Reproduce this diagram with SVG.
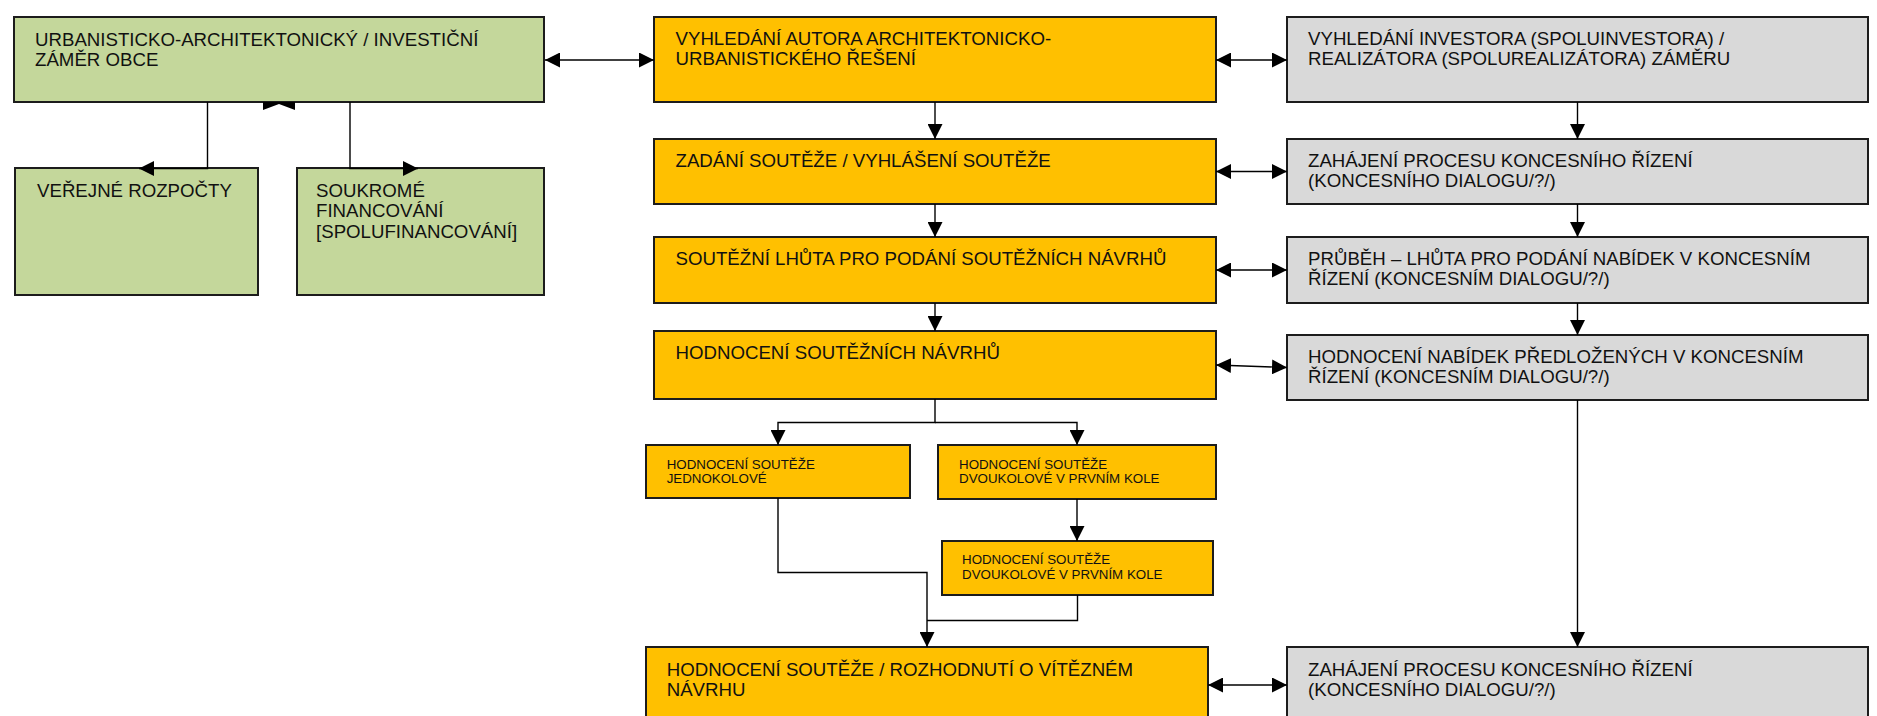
<svg xmlns="http://www.w3.org/2000/svg" width="1877" height="716" viewBox="0 0 1877 716">
<style>
  .box { stroke: #1c1c1c; stroke-width: 2; }
  .green { fill: #C4D79B; }
  .orange { fill: #FFC000; }
  .gray { fill: #D9D9D9; }
  .t { font-family: "Liberation Sans", Arial, sans-serif; font-size: 18.67px; fill: #111; }
  .ts { font-family: "Liberation Sans", Arial, sans-serif; font-size: 13.33px; fill: #111; }
  .c { fill: none; stroke: #000; stroke-width: 1.4; }
  .a { marker-end: url(#ah); }
  .aa { marker-start: url(#ah); marker-end: url(#ah); }
</style>
<defs>
  <marker id="ah" markerUnits="userSpaceOnUse" markerWidth="15" markerHeight="15" viewBox="0 0 15 15" refX="15" refY="7.5" orient="auto-start-reverse">
    <path d="M0,0 L15,7.5 L0,15 Z" fill="#000"/>
  </marker>
</defs>
<rect width="1877" height="716" fill="#fff"/>

<g id="zamer-obce">
  <rect class="box green" x="14" y="17" width="530" height="85"/>
  <text class="t" x="35" y="46">URBANISTICKO-ARCHITEKTONICKÝ / INVESTIČNÍ</text>
  <text class="t" x="35" y="66">ZÁMĚR OBCE</text>
</g>
<g id="verejne-rozpocty">
  <rect class="box green" x="15" y="168" width="243" height="127"/>
  <text class="t" x="37" y="197">VEŘEJNÉ ROZPOČTY</text>
</g>
<g id="soukrome-financovani">
  <rect class="box green" x="297" y="168" width="247" height="127"/>
  <text class="t" x="316" y="197">SOUKROMÉ</text>
  <text class="t" x="316" y="217">FINANCOVÁNÍ</text>
  <text class="t" x="316" y="237.5">[SPOLUFINANCOVÁNÍ]</text>
</g>

<g id="vyhledani-autora">
  <rect class="box orange" x="654" y="17" width="562" height="85"/>
  <text class="t" x="675.5" y="45">VYHLEDÁNÍ AUTORA ARCHITEKTONICKO-</text>
  <text class="t" x="675.5" y="65">URBANISTICKÉHO ŘEŠENÍ</text>
</g>
<g id="zadani-souteze">
  <rect class="box orange" x="654" y="139" width="562" height="65"/>
  <text class="t" x="675.5" y="167">ZADÁNÍ SOUTĚŽE / VYHLÁŠENÍ SOUTĚŽE</text>
</g>
<g id="soutezni-lhuta">
  <rect class="box orange" x="654" y="237" width="562" height="66"/>
  <text class="t" x="675.5" y="265">SOUTĚŽNÍ LHŮTA PRO PODÁNÍ SOUTĚŽNÍCH NÁVRHŮ</text>
</g>
<g id="hodnoceni-navrhu">
  <rect class="box orange" x="654" y="331" width="562" height="68"/>
  <text class="t" x="675.5" y="359">HODNOCENÍ SOUTĚŽNÍCH NÁVRHŮ</text>
</g>
<g id="jednokolove">
  <rect class="box orange" x="646" y="445" width="264" height="53"/>
  <text class="ts" x="666.7" y="468.5">HODNOCENÍ SOUTĚŽE</text>
  <text class="ts" x="666.7" y="482.5">JEDNOKOLOVÉ</text>
</g>
<g id="dvoukolove-1">
  <rect class="box orange" x="938" y="445" width="278" height="54"/>
  <text class="ts" x="959" y="468.5">HODNOCENÍ SOUTĚŽE</text>
  <text class="ts" x="959" y="482.5">DVOUKOLOVÉ V PRVNÍM KOLE</text>
</g>
<g id="dvoukolove-2">
  <rect class="box orange" x="942" y="541" width="271" height="54"/>
  <text class="ts" x="962" y="564">HODNOCENÍ SOUTĚŽE</text>
  <text class="ts" x="962" y="578.5">DVOUKOLOVÉ V PRVNÍM KOLE</text>
</g>
<g id="rozhodnuti">
  <rect class="box orange" x="646" y="647" width="562" height="80"/>
  <text class="t" x="666.7" y="676">HODNOCENÍ SOUTĚŽE / ROZHODNUTÍ O VÍTĚZNÉM</text>
  <text class="t" x="666.7" y="696">NÁVRHU</text>
</g>

<g id="vyhledani-investora">
  <rect class="box gray" x="1287" y="17" width="581" height="85"/>
  <text class="t" x="1308" y="45">VYHLEDÁNÍ INVESTORA (SPOLUINVESTORA) /</text>
  <text class="t" x="1308" y="65">REALIZÁTORA (SPOLUREALIZÁTORA) ZÁMĚRU</text>
</g>
<g id="zahajeni-1">
  <rect class="box gray" x="1287" y="139" width="581" height="65"/>
  <text class="t" x="1308" y="167">ZAHÁJENÍ PROCESU KONCESNÍHO ŘÍZENÍ</text>
  <text class="t" x="1308" y="187">(KONCESNÍHO DIALOGU/?/)</text>
</g>
<g id="prubeh">
  <rect class="box gray" x="1287" y="237" width="581" height="66"/>
  <text class="t" x="1308" y="265">PRŮBĚH – LHŮTA PRO PODÁNÍ NABÍDEK V KONCESNÍM</text>
  <text class="t" x="1308" y="285">ŘÍZENÍ (KONCESNÍM DIALOGU/?/)</text>
</g>
<g id="hodnoceni-nabidek">
  <rect class="box gray" x="1287" y="335" width="581" height="65"/>
  <text class="t" x="1308" y="363">HODNOCENÍ NABÍDEK PŘEDLOŽENÝCH V KONCESNÍM</text>
  <text class="t" x="1308" y="383">ŘÍZENÍ (KONCESNÍM DIALOGU/?/)</text>
</g>
<g id="zahajeni-2">
  <rect class="box gray" x="1287" y="647" width="581" height="80"/>
  <text class="t" x="1308" y="675.5">ZAHÁJENÍ PROCESU KONCESNÍHO ŘÍZENÍ</text>
  <text class="t" x="1308" y="695.5">(KONCESNÍHO DIALOGU/?/)</text>
</g>

<g id="connectors">
  <path class="c aa" d="M545,60 H654"/>
  <path class="c aa" d="M1216,60 H1287"/>
  <path class="c aa" d="M1216,171.5 H1287"/>
  <path class="c aa" d="M1216,270 H1287"/>
  <path class="c aa" d="M1216,365 L1287,367.5"/>
  <path class="c aa" d="M1208,685 H1287"/>
  <path class="c a" d="M935,102 V139"/>
  <path class="c a" d="M935,204 V237"/>
  <path class="c a" d="M935,303 V331"/>
  <path class="c a" d="M1577.5,102 V139"/>
  <path class="c a" d="M1577.5,204 V237"/>
  <path class="c a" d="M1577.5,303 V335"/>
  <path class="c a" d="M1577.5,400 V647"/>
  <path class="c a" d="M935,399 V422.5 H778 V445"/>
  <path class="c a" d="M935,422.5 H1077 V445"/>
  <path class="c a" d="M1077,499 V541"/>
  <path class="c a" d="M778,498 V572.5 H927 V647"/>
  <path class="c" d="M1077.5,595 V620.5 H927"/>
  <path class="c a" d="M207.5,102 V168.5 H139"/>
  <path class="c a" d="M350,102 V168.5 H418"/>
  <polygon points="263,102 295,102 295,110 279,104 263,110" fill="#000"/>
</g>
</svg>
